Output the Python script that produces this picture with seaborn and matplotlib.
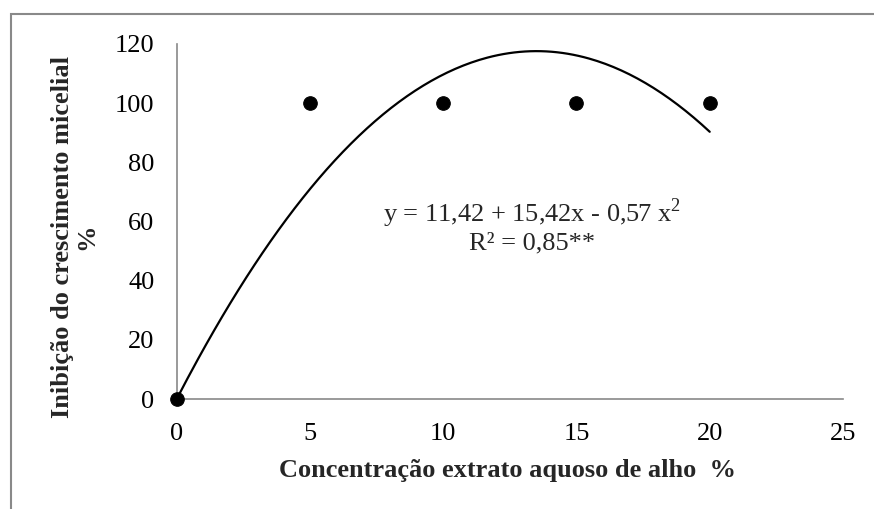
import numpy as np
import matplotlib
matplotlib.use("Agg")
import matplotlib.pyplot as plt
import seaborn as sns
from matplotlib.patches import Rectangle

# data
concentracao = [0, 5, 10, 15, 20]
inibicao = [0, 100, 100, 100, 100]
x_ticks = [0, 5, 10, 15, 20, 25]
y_ticks = [0, 20, 40, 60, 80, 100, 120]
equacao = "y = 11,42 + 15,42x - 0,57 x$^{2}$"
r2_txt = "R² = 0,85**"

sns.set_theme(style="white")
plt.rcParams["font.family"] = ["Liberation Serif", "DejaVu Serif"]
plt.rcParams["mathtext.fontset"] = "custom"
plt.rcParams["mathtext.rm"] = "Liberation Serif"

grey = "#898989"
fs = 19

# quadratic trend through origin, as drawn on the chart
xa = np.array(concentracao, dtype=float)
ya = np.array(inibicao, dtype=float)
A = np.column_stack([xa, xa ** 2])
coef, *_ = np.linalg.lstsq(A, ya, rcond=None)
x_fit = np.linspace(xa.min(), xa.max(), 200)
y_fit = coef[0] * x_fit + coef[1] * x_fit ** 2

fig = plt.figure(figsize=(8.74, 5.09), dpi=100)
ax = fig.add_axes([0.2022, 0.2161, 0.7623, 0.6975])

sns.lineplot(x=x_fit, y=y_fit, ax=ax, color="black", lw=1.6, sort=False)
sns.scatterplot(x=concentracao, y=inibicao, ax=ax, color="black", s=95,
                edgecolor="black", zorder=5, clip_on=False)

ax.set_xlim(0, 25)
ax.set_ylim(0, 120)
ax.set_xticks(x_ticks)
ax.set_yticks(y_ticks)
ax.tick_params(axis="both", labelsize=fs, colors=grey, labelcolor="black",
               length=4, width=1.2, direction="out")
ax.tick_params(axis="y", pad=12)
ax.tick_params(axis="x", pad=13)

for s in ["top", "right"]:
    ax.spines[s].set_visible(False)
for s in ["left", "bottom"]:
    ax.spines[s].set_color(grey)
    ax.spines[s].set_linewidth(1.2)

ax.set_xlabel("Concentração extrato aquoso de alho  %", fontsize=fs,
              fontweight="bold")
ax.set_ylabel("Inibição do crescimento micelial\n%", fontsize=fs,
              fontweight="bold", linespacing=1.05)
ax.xaxis.set_label_coords(0.497, -0.168)
ax.yaxis.set_label_coords(-0.118, 0.456)

ax.text(13.33, 58.7, equacao + "\n" + r2_txt, ha="center", va="center",
        fontsize=fs, multialignment="center", linespacing=1.15)

# chart area border (right and bottom fall outside the image)
fig.patches.append(Rectangle((11 / 874, -0.1), 1.2, 1.1 - 14 / 509,
                             transform=fig.transFigure, fill=False,
                             edgecolor=grey, lw=1.5))

fig.savefig("out.png", dpi=100)
